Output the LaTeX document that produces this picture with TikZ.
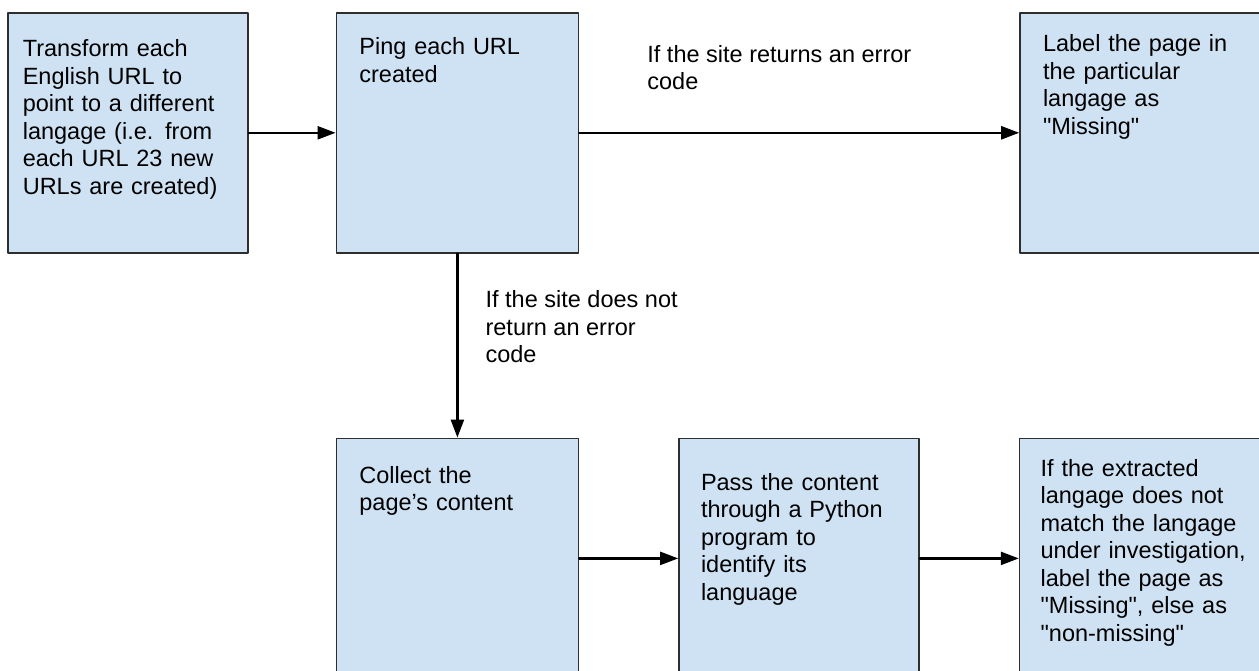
\documentclass[tikz,border=0pt]{standalone}
\usepackage{fontspec}
\setmainfont{Liberation Sans}[Ligatures=TeXOff]
\usepackage{xcolor}
\usetikzlibrary{arrows.meta,positioning}
\definecolor{boxblue}{HTML}{CFE2F3}
\definecolor{boxline}{HTML}{2E2E2E}
\begin{document}
\begin{tikzpicture}[line cap=round,line join=round,
  font=\fontsize{23.5}{27.5}\selectfont,
  procbox/.style={draw=boxline,fill=boxblue,line width=1.6pt,align=left,inner ysep=0pt,inner xsep=23pt,text width=194pt,text height=42pt,text depth=198pt},
  flow/.style={-{Triangle[length=18pt,width=13pt]},line width=2.3pt},
  cond/.style={align=left,inner sep=0pt}]
\useasboundingbox (0pt,0pt) rectangle (1259pt,-671pt);
\node [procbox,anchor=north west,inner xsep=15pt,text width=210pt,text height=44pt,text depth=196pt] (transform) at (7pt,-12pt) {Transform each\\English URL to\\point to a different\\langage (i.e. from\\each URL 23 new\\URLs are created)};
\node [procbox,right=87pt of transform,text width=196pt] (ping) {Ping each URL\\created};
\node [procbox,right=440pt of ping,text width=214pt,text height=39pt,text depth=201pt] (missing) {Label the page in\\the particular\\langage as\\"Missing"};
\node [procbox,below=184pt of ping,text width=196pt,text height=45pt,text depth=195pt] (collect) {Collect the\\page’s content};
\node [procbox,right=99pt of collect,inner xsep=22pt,text width=196pt,text height=52pt,text depth=188pt] (python) {Pass the content\\through a Python\\program to\\identify its\\language};
\node [procbox,right=99pt of python,inner xsep=21pt,text width=218pt,text height=38pt,text depth=202pt] (compare) {If the extracted\\langage does not\\match the langage\\under investigation,\\label the page as\\"Missing", else as\\"non-missing"};
\node [cond,below right=33pt and 68pt of ping.north east] (errlbl) {If the site returns an error\\code};
\node [cond,below right=37pt and 28pt of ping.south] (okLbl) {If the site does not\\return an error\\code};
\draw [flow] (transform) -- (ping);
\draw [flow] (ping) -- (missing);
\draw [flow] (ping) -- (collect);
\draw [flow] (collect) -- (python);
\draw [flow] (python) -- (compare);
\end{tikzpicture}
\end{document}
